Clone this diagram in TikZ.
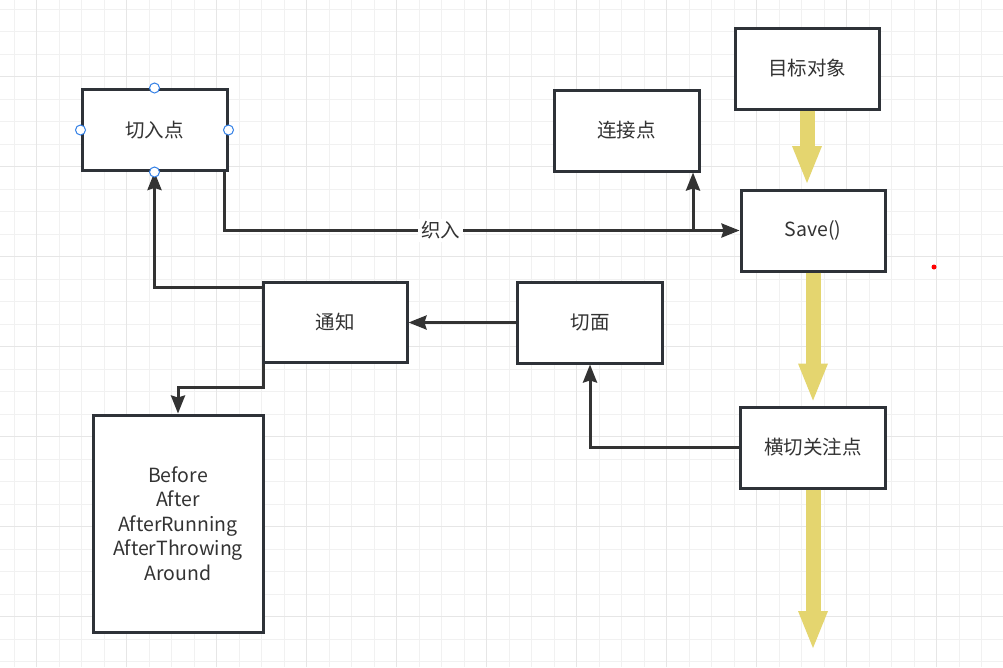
\documentclass[tikz,border=0pt]{standalone}
\usepackage{fontspec}
\setmainfont{Noto Sans CJK SC}
\usetikzlibrary{arrows.meta,calc}
\definecolor{boxline}{RGB}{46,50,56}
\definecolor{ink}{RGB}{51,51,51}
\definecolor{flow}{RGB}{228,213,111}
\definecolor{gridminor}{RGB}{241,241,241}
\definecolor{gridmajor}{RGB}{230,230,230}
\definecolor{handle}{RGB}{51,128,230}
\begin{document}
\begin{tikzpicture}[x=1pt,y=-1pt,
    box/.style={draw=boxline,line width=3pt,fill=white,rectangle,
      minimum width=145pt,minimum height=81pt,inner sep=0pt,text=ink,
      font=\fontsize{19.5}{24.5}\selectfont},
    link/.style={draw=ink,line width=3pt,-{Stealth[length=18pt,width=14pt,inset=2pt]}},
    fat/.style={draw=flow,line width=15pt,-{Triangle[length=37pt,width=30pt,line width=0pt]}},
    knob/.style={circle,draw=handle,fill=white,line width=1pt,minimum size=10pt,inner sep=0pt},
    minorgrid/.style={draw=gridminor,line width=1pt},
    majorgrid/.style={draw=gridmajor,line width=1.5pt}]
      \fill[white] (0,0) rectangle (1003,667);
      \useasboundingbox (0,0) rectangle (1003,667);
      % grid
      \foreach \i in {0,...,44}
        \draw[minorgrid] ({14.2+22.5*\i},0) -- ({14.2+22.5*\i},667);
      \foreach \j in {0,...,29}
        \draw[minorgrid] (0,{9.2+22.5*\j}) -- (1003,{9.2+22.5*\j});
      \foreach \i in {0,...,10}
        \draw[majorgrid] ({36.7+90*\i},0) -- ({36.7+90*\i},667);
      \foreach \j in {0,...,6}
        \draw[majorgrid] (0,{76.7+90*\j}) -- (1003,{76.7+90*\j});
      % boxes
      \node[box] (rujd) at (154.5,130) {切入点};
      \node[box] (lianjie) at (626.5,130.5) {连接点};
      \node[box,minimum width=144pt] (mubiao) at (807,68.5) {目标对象};
      \node[box,minimum width=144pt] (save) at (813,230.5) {Save()};
      \node[box,minimum width=144pt,minimum height=80pt] (tongzhi) at (335,322) {通知};
      \node[box] (qiemian) at (590,322.5) {切面};
      \node[box] (hengqie) at (813,447.5) {横切关注点};
      \node[box,minimum width=170pt,minimum height=217pt,align=center] (advice) at (178,523.5)
        {Before\\After\\AfterRunning\\AfterThrowing\\Around};
      % yellow flow
      \coordinate (exit) at (813,648);
      \draw[fat,shorten >=5.5pt] (mubiao.south) -- (mubiao.south |- save.north);
      \draw[fat,shorten >=5pt] (save.south) -- (hengqie.north);
      \draw[fat] (hengqie.south) -- (exit);
      % connectors
      \coordinate (fork) at (693,230.5);
      \begin{scope}[link]
        \draw ($(rujd.south east)+(-4,0)$) |- node[pos=0.71,fill=white,text=ink,inner sep=3pt,
          font=\fontsize{19.5}{24.5}\selectfont] (zhiru) {织入} (save.west);
        \draw (fork) -- (fork |- lianjie.south);
        \draw ($(tongzhi.north west)+(1.5,6.5)$) -| (rujd.south);
        \draw (qiemian.west) -- (qiemian.west -| tongzhi.east);
        \draw ($(tongzhi.south west)+(1.5,0)$) -- ++(0,24) -| (advice.north);
        \draw (hengqie.west) -| (qiemian.south);
      \end{scope}
      % handles
      \foreach \a in {north,south,east,west}
        \node[knob] (knob-\a) at (rujd.\a) {};
      \node[circle,fill=red,inner sep=0pt,minimum size=5pt] (dot) at (934,267) {};
    \end{tikzpicture}
\end{document}
